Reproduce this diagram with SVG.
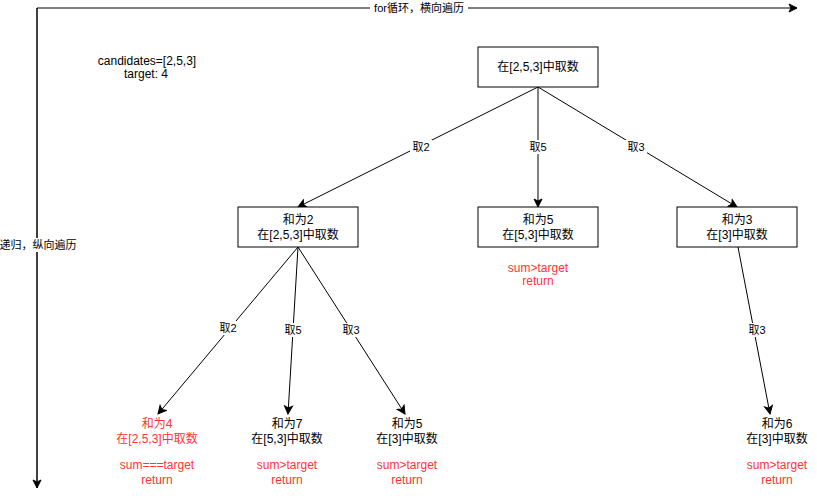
<svg xmlns="http://www.w3.org/2000/svg" width="817" height="496" viewBox="0 0 817 496">
  <style>
    text { font-family: "Liberation Sans", Helvetica, Arial, "Noto Sans CJK SC", sans-serif; font-size: 12px; text-anchor: middle; dominant-baseline: central; fill: #000; }
    .lbl { font-size: 11px; }
    .red { fill: #ff3333; }
    .box { fill: #fff; stroke: #000; stroke-width: 1; }
    .edge { fill: none; stroke: #000; stroke-width: 1; marker-end: url(#arrow); }
    .bg { fill: #fff; }
  </style>
  <defs>
    <marker id="arrow" viewBox="0 0 10 10" refX="9" refY="5" markerWidth="10" markerHeight="10" markerUnits="userSpaceOnUse" orient="auto">
      <path d="M1,1 L9,5 L1,9 L3,5 Z" fill="#000" stroke="#000" stroke-width="1"/>
    </marker>
  </defs>
  <rect width="817" height="496" fill="#fff"/>

  <!-- axes -->
  <g id="axes">
    <path class="edge" d="M37,488 L37,8 L797,8"/>
    <path class="edge" d="M37,8 L37,488"/>
    <rect class="bg" x="370" y="1" width="98" height="14"/>
    <text class="lbl" x="419" y="8">for循环，横向遍历</text>
    <rect class="bg" x="0" y="238" width="76" height="14"/>
    <text class="lbl" x="38" y="245">递归，纵向遍历</text>
  </g>

  <g id="info">
    <text x="147" y="61">candidates=[2,5,3]</text>
    <text x="146" y="74">target: 4</text>
  </g>

  <!-- connectors -->
  <g id="connectors">
    <path class="edge" d="M538,87 L298,207"/>
    <path class="edge" d="M538,87 L538,207"/>
    <path class="edge" d="M538,87 L737,207"/>
    <path class="edge" d="M298,247 L158,414"/>
    <path class="edge" d="M298,247 L288,414"/>
    <path class="edge" d="M298,247 L405,414"/>
    <path class="edge" d="M738,247 L770,414"/>
    <g class="lbl-bg">
      <rect class="bg" x="410" y="140" width="22" height="14"/>
      <rect class="bg" x="527" y="140" width="22" height="14"/>
      <rect class="bg" x="625" y="140" width="22" height="14"/>
      <rect class="bg" x="217" y="321" width="22" height="14"/>
      <rect class="bg" x="282" y="323" width="22" height="14"/>
      <rect class="bg" x="340" y="323" width="22" height="14"/>
      <rect class="bg" x="746" y="323" width="22" height="14"/>
    </g>
    <text class="lbl" x="421" y="147">取2</text>
    <text class="lbl" x="538" y="147">取5</text>
    <text class="lbl" x="636" y="147">取3</text>
    <text class="lbl" x="228" y="328">取2</text>
    <text class="lbl" x="293" y="330">取5</text>
    <text class="lbl" x="351" y="330">取3</text>
    <text class="lbl" x="757" y="330">取3</text>
  </g>

  <g id="root">
    <rect class="box" x="478" y="47" width="120" height="40"/>
    <text x="538" y="67">在[2,5,3]中取数</text>
  </g>

  <g id="sum2">
    <rect class="box" x="238" y="207" width="120" height="40"/>
    <text x="298" y="220">和为2</text>
    <text x="298" y="235">在[2,5,3]中取数</text>
  </g>

  <g id="sum5a">
    <rect class="box" x="478" y="207" width="120" height="40"/>
    <text x="538" y="220">和为5</text>
    <text x="538" y="235">在[5,3]中取数</text>
    <text class="red" x="538" y="268">sum&gt;target</text>
    <text class="red" x="538" y="281">return</text>
  </g>

  <g id="sum3">
    <rect class="box" x="677" y="207" width="120" height="40"/>
    <text x="737" y="220">和为3</text>
    <text x="737" y="235">在[3]中取数</text>
  </g>

  <g id="sum4">
    <text class="red" x="157" y="424">和为4</text>
    <text class="red" x="157" y="439">在[2,5,3]中取数</text>
    <text class="red" x="157" y="465">sum===target</text>
    <text class="red" x="157" y="480">return</text>
  </g>

  <g id="sum7">
    <text x="287" y="424">和为7</text>
    <text x="287" y="439">在[5,3]中取数</text>
    <text class="red" x="287" y="465">sum&gt;target</text>
    <text class="red" x="287" y="480">return</text>
  </g>

  <g id="sum5b">
    <text x="407" y="424">和为5</text>
    <text x="407" y="439">在[3]中取数</text>
    <text class="red" x="407" y="465">sum&gt;target</text>
    <text class="red" x="407" y="480">return</text>
  </g>

  <g id="sum6">
    <text x="777" y="424">和为6</text>
    <text x="777" y="439">在[3]中取数</text>
    <text class="red" x="777" y="465">sum&gt;target</text>
    <text class="red" x="777" y="480">return</text>
  </g>
</svg>
